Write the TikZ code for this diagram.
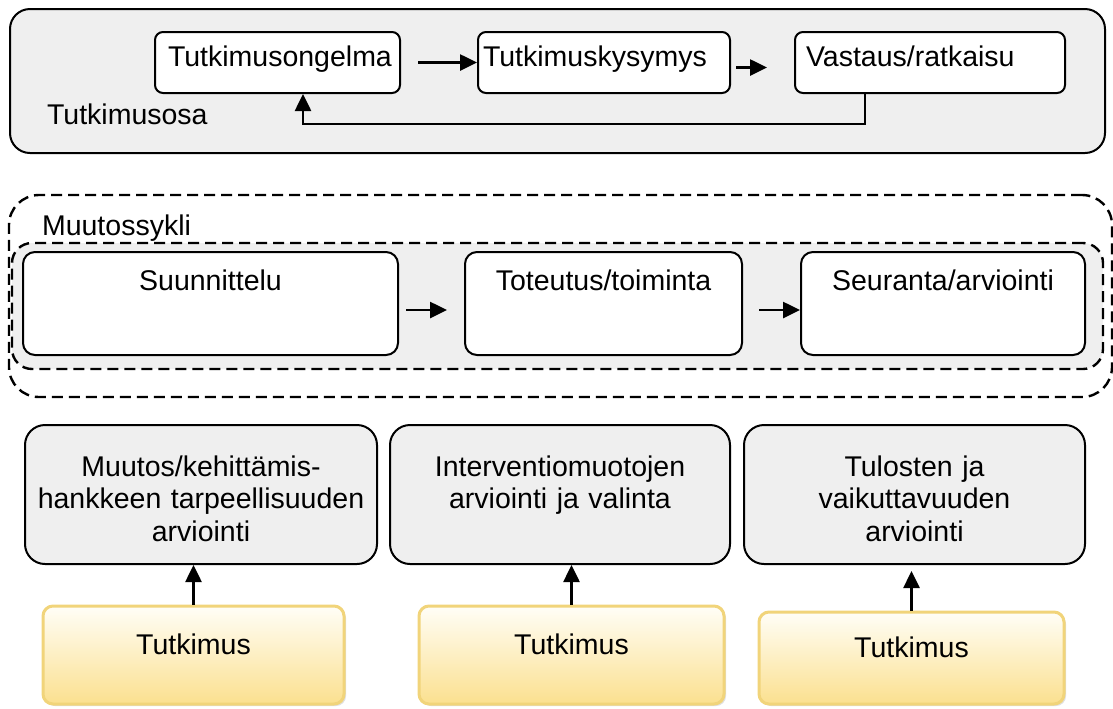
\documentclass[tikz,border=0pt]{standalone}
\usepackage{fontspec}
\setmainfont{Liberation Sans}
\usetikzlibrary{arrows.meta,shadows}

\definecolor{boxgray}{HTML}{EFEFEF}
\definecolor{ylwtop}{HTML}{FFFEF7}
\definecolor{ylwbot}{HTML}{FBE08F}
\definecolor{ylwline}{HTML}{F1D47A}

\begin{document}
\begin{tikzpicture}[x=0.5pt,y=-0.5pt,
    font=\fontsize{14.25pt}{16.25pt}\selectfont,
    arr/.style={-{Triangle[length=8.5pt,width=8pt]},line width=1.3pt},
    frame/.style={draw,line width=1pt,inner sep=0pt},
    osa/.style={frame,fill=boxgray,rounded corners=10pt,minimum width=547.5pt,minimum height=72pt},
    sykli/.style={frame,dash pattern=on 5.5pt off 3pt,line width=1.2pt,rounded corners=15pt,minimum width=551.5pt,minimum height=101pt},
    qbox/.style={frame,fill=white,rounded corners=4pt,align=left,inner ysep=0pt,text height=17pt,text depth=13.5pt},
    sbox/.style={frame,fill=white,rounded corners=6pt,align=center,text height=19pt,text depth=32.5pt},
    abox/.style={frame,fill=boxgray,rounded corners=10pt,align=center,text height=25.5pt,text depth=44pt},
    tbox/.style={draw=ylwline,line width=1.5pt,rounded corners=5pt,top color=ylwtop,bottom color=ylwbot,
        drop shadow={shadow xshift=1pt,shadow yshift=-1pt,opacity=0.25},
        align=center,inner sep=0pt,text height=24pt,text depth=25pt}]

    \useasboundingbox (0,0) rectangle (1113,708);

    % research part
    \node[osa] (osa) at (557.5,81) {};
    \node[anchor=base west] (osalbl) at (40,124) {Tutkimusosa};
    \node[qbox,text width=109.5pt,inner xsep=6.5pt] (ongelma) at (277.5,62.5) {Tutkimusongelma};
    \node[qbox,text width=121pt,inner xsep=2.5pt] (kysymys) at (604,62.5) {Tutkimuskysymys};
    \node[qbox,text width=124pt,inner xsep=5.5pt] (vastaus) at (930,62.5) {Vastaus/ratkaisu};
    \draw[arr] ([xshift=8.5pt]ongelma.east) -- (kysymys.west);
    \draw[arr] ([xshift=2.5pt,yshift=-2.5pt]kysymys.east) -- ([xshift=-13.5pt,yshift=-2.5pt]vastaus.west);
    % back to the problem
    \draw[arr] ([xshift=-32.5pt]vastaus.south) -- ++(0,30) -| ([xshift=12.75pt]ongelma.south);

    % change cycle
    \node[sykli] (sykli) at (560.5,296) {};
    \node[sykli,fill=boxgray,rounded corners=10pt,minimum width=545.5pt,minimum height=63pt] (vaiheet) at (557.5,306) {};
    \node[anchor=base west] (syklilbl) at (35,235) {Muutossykli};
    \node[sbox,text width=187.5pt] (suunn) at (210.5,303.5) {Suunnittelu};
    \node[sbox,text width=138.5pt] (toteutus) at (603.5,303.5) {Toteutus/toiminta};
    \node[sbox,text width=142pt] (seuranta) at (943,303.5) {Seuranta/arviointi};
    \draw[arr] ([xshift=3.5pt,yshift=-3.25pt]suunn.east) -- ([xshift=-8.5pt,yshift=-3.25pt]toteutus.west);
    \draw[arr] ([xshift=8pt,yshift=-3.25pt]toteutus.east) -- ([yshift=-3.25pt]seuranta.west);

    % evaluation
    \node[abox,text width=176pt] (arv1) at (201,494.5) {Muutos/kehittämis-\\hankkeen tarpeellisuuden\\arviointi};
    \node[abox,text width=170pt] (arv2) at (560,494.5) {Interventiomuotojen\\arviointi ja valinta};
    \node[abox,text width=170.5pt] (arv3) at (914.5,494.5) {Tulosten ja\\vaikuttavuuden\\arviointi};

    % research
    \node[tbox,text width=150.5pt] (tut1) at (193.5,655) {Tutkimus};
    \node[tbox,text width=152.5pt] (tut2) at (571.5,655) {Tutkimus};
    \node[tbox,text width=152.5pt,text height=22.5pt,text depth=23.5pt] (tut3) at (911.5,658) {Tutkimus};
    \draw[arr] (tut1.north) -- (tut1.north |- arv1.south);
    \draw[arr] (tut2.north) -- (tut2.north |- arv2.south);
    \draw[arr,shorten >=3pt] (tut3.north) -- (tut3.north |- arv3.south);

\end{tikzpicture}
\end{document}
